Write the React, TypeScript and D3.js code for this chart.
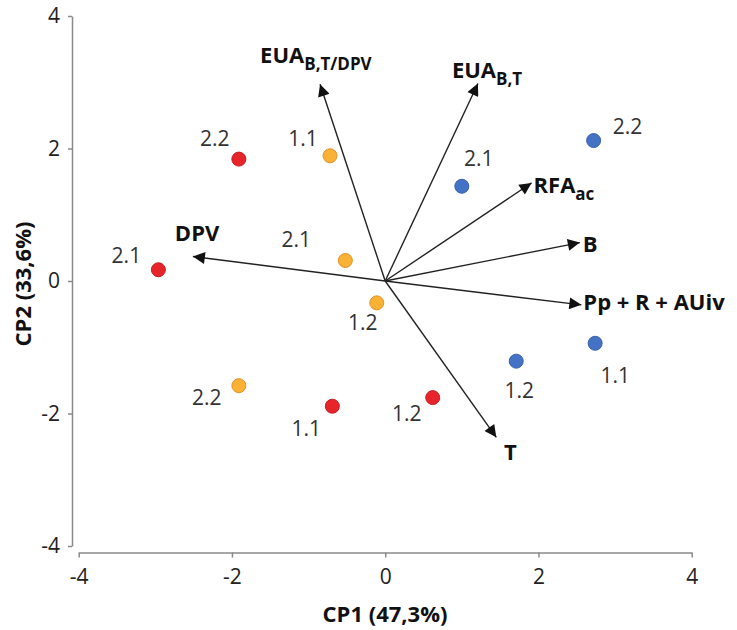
import * as d3 from "d3";
import { useEffect, useRef } from "react";

// sample points (PCA scores)
const pointNames = ["2.2", "1.1", "2.1", "2.1", "1.2", "2.2", "1.1", "1.2", "1.2", "1.1", "2.1", "2.2"];
const pointGroups = ["red", "orange", "red", "orange", "orange", "orange", "red", "red", "blue", "blue", "blue", "blue"];
const pointCP1 = [-1.91, -0.72, -2.96, -0.52, -0.11, -1.91, -0.69, 0.62, 1.71, 2.74, 1.0, 2.72];
const pointCP2 = [1.84, 1.89, 0.17, 0.31, -0.33, -1.58, -1.89, -1.76, -1.21, -0.94, 1.43, 2.12];

// variable loadings (arrows)
const arrowNames = ["EUA", "EUA", "RFA", "B", "Pp + R + AUiv", "DPV", "T"];
const arrowSubs = ["B,T/DPV", "B,T", "ac", "", "", "", ""];
const arrowCP1 = [-0.85, 1.21, 1.91, 2.54, 2.56, -2.51, 1.45];
const arrowCP2 = [2.97, 2.98, 1.48, 0.58, -0.36, 0.37, -2.36];

const tickValues = [-4, -2, 0, 2, 4];
const xTitle = "CP1 (47,3%)";
const yTitle = "CP2 (33,6%)";

// label offsets in px (layout only)
const pointLabelOffsets: [number, number][] = [
  [-24, -13], [-27, -10], [-32, -7], [-49, -13], [-14, 27], [-32, 19],
  [-26, 30], [-26, 23], [3, 37], [20, 40], [17, -20], [34, -7],
];
const arrowLabelOffsets: [number, number, string][] = [
  [-60, -21, "start"], [-26, -6, "start"], [2, 10, "start"], [3, 9, "start"],
  [2, 5, "start"], [-18, -15, "start"], [14, 23, "middle"],
];

const colors: { [k: string]: { fill: string; stroke: string } } = {
  red: { fill: "#e8242b", stroke: "#c41e25" },
  orange: { fill: "#f9b233", stroke: "#e2922a" },
  blue: { fill: "#4472c4", stroke: "#3a62ad" },
};

const FONT = "'Open Sans', 'Noto Sans', sans-serif";

const App: React.FC = () => {
  const ref = useRef<SVGSVGElement | null>(null);

  useEffect(() => {
    const width = 737;
    const height = 630;
    const svg = d3.select(ref.current);
    svg.selectAll("*").remove();
    svg.attr("width", width).attr("height", height);

    const x = d3.scaleLinear().domain([-4, 4]).range([78.7, 691.7]);
    const y = d3.scaleLinear().domain([-4, 4]).range([546, 16]);
    const yAxisX = 72;
    const xAxisY = 552.5;

    svg
      .append("defs")
      .append("marker")
      .attr("id", "arrowhead")
      .attr("viewBox", "0 0 10 10")
      .attr("refX", 10)
      .attr("refY", 5)
      .attr("markerWidth", 15)
      .attr("markerHeight", 12)
      .attr("markerUnits", "userSpaceOnUse")
      .attr("orient", "auto")
      .append("path")
      .attr("d", "M0,0 L10,5 L0,10 z")
      .attr("fill", "#111");

    // axes
    const fmt = (d: d3.NumberValue) => String(d);
    const yAxis = svg
      .append("g")
      .attr("transform", `translate(${yAxisX},0)`)
      .call(d3.axisLeft(y).tickValues(tickValues).tickFormat(fmt).tickSize(4).tickSizeOuter(0).tickPadding(8));
    const xAxis = svg
      .append("g")
      .attr("transform", `translate(0,${xAxisY})`)
      .call(d3.axisBottom(x).tickValues(tickValues).tickFormat(fmt).tickSize(5).tickSizeOuter(0).tickPadding(12));
    [yAxis, xAxis].forEach((g) => {
      g.select(".domain").attr("stroke", "#8a8a8a").attr("stroke-width", 1.5);
      g.selectAll(".tick line").attr("stroke", "#8a8a8a").attr("stroke-width", 1.5);
      g.selectAll(".tick text")
        .attr("font-family", FONT)
        .attr("font-size", 21)
        .attr("fill", "#222");
    });

    // axis titles
    svg
      .append("text")
      .attr("x", 385)
      .attr("y", 622)
      .attr("text-anchor", "middle")
      .attr("font-family", FONT)
      .attr("font-weight", "bold")
      .attr("font-size", 22)
      .attr("fill", "#111")
      .text(xTitle);
    svg
      .append("text")
      .attr("transform", `translate(31,284) rotate(-90)`)
      .attr("text-anchor", "middle")
      .attr("font-family", FONT)
      .attr("font-weight", "bold")
      .attr("font-size", 22)
      .attr("fill", "#111")
      .text(yTitle);

    // arrows
    const arrows = arrowNames.map((name, i) => ({
      name,
      sub: arrowSubs[i],
      cp1: arrowCP1[i],
      cp2: arrowCP2[i],
      off: arrowLabelOffsets[i],
    }));

    svg
      .selectAll(".arrow")
      .data(arrows)
      .enter()
      .append("line")
      .attr("class", "arrow")
      .attr("x1", x(0))
      .attr("y1", y(0))
      .attr("x2", (d) => x(d.cp1))
      .attr("y2", (d) => y(d.cp2))
      .attr("stroke", "#222")
      .attr("stroke-width", 1.4)
      .attr("marker-end", "url(#arrowhead)");

    const arrowLabels = svg
      .selectAll(".arrow-label")
      .data(arrows)
      .enter()
      .append("text")
      .attr("class", "arrow-label")
      .attr("x", (d) => x(d.cp1) + d.off[0])
      .attr("y", (d) => y(d.cp2) + d.off[1])
      .attr("text-anchor", (d) => d.off[2])
      .attr("font-family", FONT)
      .attr("font-weight", "bold")
      .attr("font-size", 22)
      .attr("fill", "#111");
    arrowLabels.append("tspan").text((d) => d.name);
    arrowLabels
      .filter((d) => d.sub !== "")
      .append("tspan")
      .attr("dy", 7)
      .attr("font-size", 17)
      .text((d) => d.sub);

    // points
    const points = pointNames.map((name, i) => ({
      name,
      group: pointGroups[i],
      cp1: pointCP1[i],
      cp2: pointCP2[i],
      off: pointLabelOffsets[i],
    }));

    svg
      .selectAll(".point")
      .data(points)
      .enter()
      .append("circle")
      .attr("class", "point")
      .attr("cx", (d) => x(d.cp1))
      .attr("cy", (d) => y(d.cp2))
      .attr("r", 7)
      .attr("fill", (d) => colors[d.group].fill)
      .attr("stroke", (d) => colors[d.group].stroke)
      .attr("stroke-width", 1);

    svg
      .selectAll(".point-label")
      .data(points)
      .enter()
      .append("text")
      .attr("class", "point-label")
      .attr("x", (d) => x(d.cp1) + d.off[0])
      .attr("y", (d) => y(d.cp2) + d.off[1])
      .attr("text-anchor", "middle")
      .attr("font-family", FONT)
      .attr("font-size", 21)
      .attr("fill", "#333")
      .text((d) => d.name);
  }, []);

  return (
    <svg
      ref={ref}
      style={{ position: "absolute", left: 0, top: 0, background: "#fff" }}
    ></svg>
  );
};

export default App;
